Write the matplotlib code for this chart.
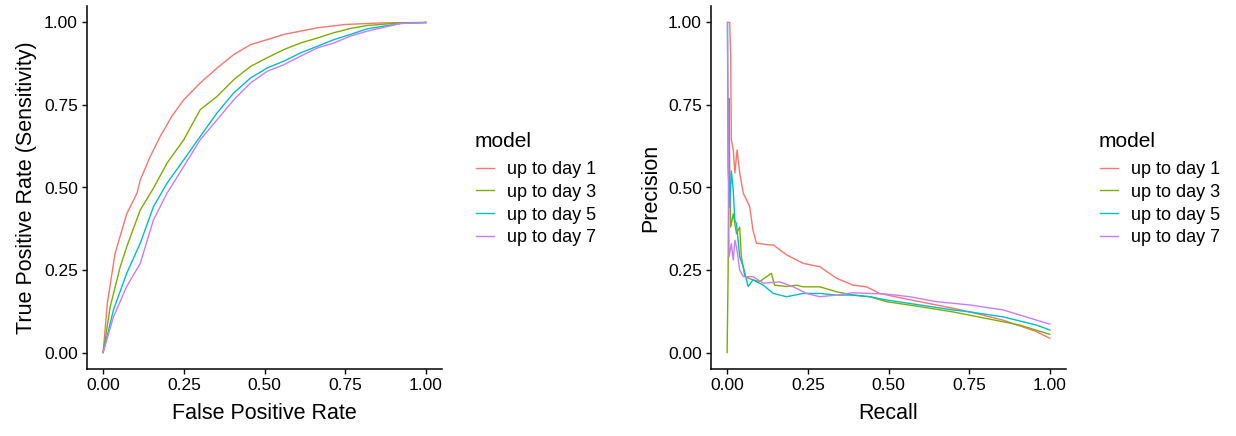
import matplotlib
matplotlib.use("Agg")
import matplotlib.pyplot as plt

plt.rcParams["font.family"] = ["Liberation Sans", "DejaVu Sans"]

models = ["up to day 1", "up to day 3", "up to day 5", "up to day 7"]
colors = ["#F8766D", "#7CAE00", "#00BFC4", "#C77CFF"]

# ROC curves: false positive rate / true positive rate
roc_fpr = [
    [0, 0.013, 0.037, 0.073, 0.105, 0.115, 0.146, 0.177, 0.213, 0.25, 0.301, 0.353,
     0.405, 0.457, 0.508, 0.56, 0.664, 0.75, 0.87, 1.0],
    [0, 0.022, 0.053, 0.073, 0.115, 0.156, 0.198, 0.25, 0.301, 0.353, 0.405, 0.457,
     0.508, 0.56, 0.612, 0.664, 0.715, 0.767, 0.819, 0.922, 1.0],
    [0, 0.032, 0.073, 0.115, 0.156, 0.198, 0.25, 0.301, 0.353, 0.405, 0.457, 0.508,
     0.56, 0.612, 0.664, 0.715, 0.767, 0.819, 0.922, 1.0],
    [0, 0.032, 0.073, 0.115, 0.156, 0.198, 0.25, 0.301, 0.353, 0.405, 0.457, 0.508,
     0.56, 0.612, 0.664, 0.715, 0.767, 0.819, 0.922, 1.0],
]
roc_tpr = [
    [0, 0.149, 0.30, 0.42, 0.483, 0.523, 0.594, 0.655, 0.716, 0.766, 0.817, 0.862,
     0.903, 0.933, 0.948, 0.964, 0.984, 0.994, 0.999, 1.0],
    [0, 0.139, 0.26, 0.32, 0.432, 0.498, 0.574, 0.645, 0.736, 0.776, 0.827, 0.867,
     0.893, 0.918, 0.938, 0.953, 0.969, 0.982, 0.991, 0.999, 1.0],
    [0, 0.129, 0.24, 0.331, 0.442, 0.513, 0.584, 0.655, 0.726, 0.787, 0.832, 0.862,
     0.883, 0.908, 0.928, 0.948, 0.964, 0.981, 0.997, 1.0],
    [0, 0.108, 0.20, 0.27, 0.402, 0.483, 0.564, 0.645, 0.705, 0.766, 0.817, 0.852,
     0.872, 0.898, 0.923, 0.938, 0.959, 0.974, 0.997, 1.0],
]

# precision-recall curves
pr_recall = [
    [0.003, 0.008, 0.011, 0.013, 0.019, 0.024, 0.031, 0.039, 0.05, 0.07, 0.08, 0.091,
     0.132, 0.143, 0.184, 0.236, 0.287, 0.339, 0.39, 0.432, 0.473, 0.545, 0.597,
     0.70, 0.752, 0.855, 0.959, 1.0],
    [0, 0.003, 0.006, 0.008, 0.011, 0.019, 0.029, 0.039, 0.044, 0.055, 0.08, 0.101,
     0.137, 0.147, 0.184, 0.215, 0.236, 0.287, 0.339, 0.39, 0.442, 0.494, 0.597,
     0.70, 0.804, 0.907, 1.0],
    [0.001, 0.003, 0.008, 0.013, 0.019, 0.024, 0.029, 0.039, 0.05, 0.06, 0.065, 0.08,
     0.112, 0.143, 0.184, 0.236, 0.287, 0.339, 0.39, 0.442, 0.494, 0.597, 0.70,
     0.752, 0.855, 0.959, 1.0],
    [0.001, 0.005, 0.006, 0.013, 0.019, 0.024, 0.029, 0.039, 0.05, 0.08, 0.112, 0.163,
     0.205, 0.246, 0.287, 0.339, 0.39, 0.442, 0.494, 0.566, 0.649, 0.752, 0.855,
     0.959, 1.0],
]
pr_precision = [
    [1.0, 1.0, 0.90, 0.645, 0.614, 0.544, 0.614, 0.544, 0.483, 0.442, 0.371, 0.331,
     0.326, 0.326, 0.296, 0.27, 0.26, 0.225, 0.204, 0.199, 0.179, 0.164, 0.154,
     0.134, 0.123, 0.098, 0.063, 0.043],
    [0, 0.24, 0.77, 0.544, 0.38, 0.42, 0.36, 0.38, 0.29, 0.23, 0.22, 0.215, 0.24,
     0.204, 0.20, 0.204, 0.199, 0.199, 0.184, 0.174, 0.169, 0.154, 0.139, 0.123,
     0.103, 0.083, 0.055],
    [1.0, 0.56, 0.44, 0.55, 0.49, 0.40, 0.39, 0.29, 0.26, 0.22, 0.20, 0.22, 0.204,
     0.179, 0.169, 0.179, 0.179, 0.174, 0.174, 0.169, 0.159, 0.144, 0.129, 0.123,
     0.108, 0.083, 0.068],
    [1.0, 0.41, 0.29, 0.33, 0.28, 0.34, 0.32, 0.25, 0.23, 0.23, 0.21, 0.214, 0.199,
     0.179, 0.169, 0.174, 0.181, 0.179, 0.177, 0.169, 0.154, 0.144, 0.129, 0.098,
     0.086],
]

ticks = [0, 0.25, 0.5, 0.75, 1.0]
tick_labels = ["0.00", "0.25", "0.50", "0.75", "1.00"]

fig = plt.figure(figsize=(12.36, 4.36), dpi=100)
ax1 = fig.add_axes([87 / 1236, 67 / 436, 355 / 1236, 363 / 436])
ax2 = fig.add_axes([711 / 1236, 67 / 436, 355 / 1236, 363 / 436])


def style(ax, xlabel, ylabel):
    ax.set_xlim(-0.05, 1.05)
    ax.set_ylim(-0.05, 1.05)
    ax.set_xticks(ticks)
    ax.set_xticklabels(tick_labels)
    ax.set_yticks(ticks)
    ax.set_yticklabels(tick_labels)
    for side in ["top", "right"]:
        ax.spines[side].set_visible(False)
    for side in ["left", "bottom"]:
        ax.spines[side].set_linewidth(1.1)
    ax.tick_params(length=3.5, width=1.0, labelsize=12.5, colors="black", pad=3)
    ax.set_xlabel(xlabel, fontsize=15.5, labelpad=7)
    ax.set_ylabel(ylabel, fontsize=15.5, labelpad=5)


for i in range(4):
    ax1.plot(roc_fpr[i], roc_tpr[i], color=colors[i], lw=1.0, label=models[i])
    ax2.plot(pr_recall[i], pr_precision[i], color=colors[i], lw=1.0, label=models[i])

style(ax1, "False Positive Rate", "True Positive Rate (Sensitivity)")
style(ax2, "Recall", "Precision")

# legends: title as separate text so the gap above the keys can be set
for ax, x0 in [(ax1, 475 / 1236), (ax2, 1099 / 1236)]:
    fig.text(x0, 1 - 147 / 436, "model", fontsize=15, va="baseline", ha="left")
    ax.legend(loc="upper left", bbox_to_anchor=(x0 + 1 / 1236, 1 - 161 / 436),
              bbox_transform=fig.transFigure, frameon=False,
              fontsize=13, borderpad=0, borderaxespad=0, handlelength=1.0,
              handletextpad=0.7, labelspacing=0.32)

fig.savefig("out.png", dpi=100)
